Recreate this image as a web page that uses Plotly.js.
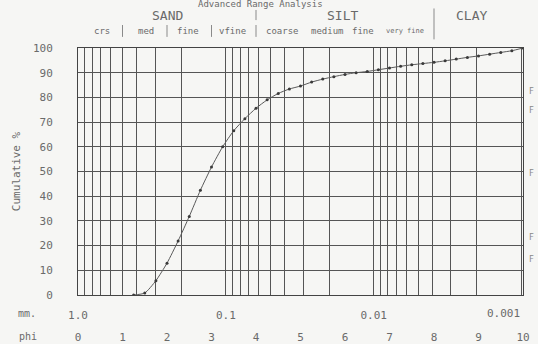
<!DOCTYPE html>
<html>
<head>
<meta charset="utf-8">
<script src="https://cdn.plot.ly/plotly-3.0.1.min.js"></script>
<style>
  html, body { margin: 0; padding: 0; background: #f6f6f4; }
  #chart { width: 538px; height: 344px; }
</style>
</head>
<body>
<div id="chart"></div>
<script>
// ---- data ----
const phi = [1.25, 1.5, 1.75, 2.0, 2.25, 2.5, 2.75, 3.0, 3.25, 3.5, 3.75, 4.0, 4.25, 4.5, 4.75,
             5.0, 5.25, 5.5, 5.75, 6.0, 6.25, 6.5, 6.75, 7.0, 7.25, 7.5, 7.75, 8.0, 8.25, 8.5,
             8.75, 9.0, 9.25, 9.5, 9.75, 10.0];
const cumulative = [0.0, 0.8, 5.8, 12.9, 21.9, 31.8, 42.4, 51.8, 60.0, 66.5, 71.4, 75.6, 79.0, 81.6, 83.4,
                    84.6, 86.2, 87.4, 88.4, 89.3, 90.0, 90.5, 91.2, 91.9, 92.6, 93.2, 93.7, 94.2, 94.8, 95.5,
                    96.2, 96.8, 97.5, 98.2, 98.9, 100.0];

// grid / tick values on the mm (log) axis
const mmGrid = [1, 0.9, 0.8, 0.7, 0.6, 0.5, 0.4, 0.3, 0.2,
                0.1, 0.09, 0.08, 0.07, 0.06, 0.05, 0.04, 0.03, 0.02,
                0.01, 0.009, 0.008, 0.007, 0.006, 0.005, 0.004, 0.003, 0.002, 0.001];
const mmLabels = ['1.0', '', '', '', '', '', '', '', '',
                  '0.1', '', '', '', '', '', '', '', '',
                  '0.01', '', '', '', '', '', '', '', '', ''];
const mmLastLabel = '0.001';
const phiTicks = [0, 1, 2, 3, 4, 5, 6, 7, 8, 9, 10];
const yTicks = [0, 10, 20, 30, 40, 50, 60, 70, 80, 90, 100];

// class labels (text, phi position)
const classNames = ['SAND', 'SILT', 'CLAY'];
const classPhi = [2.0, 5.95, 8.85];
const subNames = ['crs', 'med', 'fine', 'vfine', 'coarse', 'medium', 'fine'];
const subPhi = [0.55, 1.52, 2.47, 3.47, 4.6, 5.6, 6.4];
const subSmall = ['very fine'];
const subSmallPhi = [7.35];
const sepSubPhi = [1, 2, 3];
const sepMainPhi = 4;
const sepFullPhi = 8;

const FONT = 'DejaVu Sans Mono, Liberation Mono, monospace';
const TXT = '#6a6a6a';

const annotations = [];
function note(o) { annotations.push(Object.assign({showarrow: false, yanchor: 'middle'}, o)); }
note({xref: 'paper', yref: 'paper', x: 0.41, y: 1.178, text: 'Advanced Range Analysis',
  font: {family: FONT, size: 9, color: TXT}});
classNames.forEach((t, i) => note({xref: 'x2', yref: 'paper', x: classPhi[i], y: 1.133,
  text: t, font: {family: FONT, size: 13, color: TXT}}));
subNames.forEach((t, i) => note({xref: 'x2', yref: 'paper', x: subPhi[i], y: 1.069,
  text: t, font: {family: FONT, size: 9, color: TXT}}));
subSmall.forEach((t, i) => note({xref: 'x2', yref: 'paper', x: subSmallPhi[i], y: 1.069,
  text: t, font: {family: FONT, size: 7, color: TXT}}));
note({xref: 'x', yref: 'paper', x: Math.log10(mmGrid[mmGrid.length - 1]), xanchor: 'right',
  xshift: 1, y: -0.073, text: mmLastLabel, font: {family: FONT, size: 11, color: TXT}});
note({xref: 'paper', yref: 'paper', x: -0.09, y: -0.073, xanchor: 'right', text: 'mm.',
  font: {family: FONT, size: 10, color: TXT}});
note({xref: 'paper', yref: 'paper', x: -0.087, y: -0.17, xanchor: 'right', text: 'phi',
  font: {family: FONT, size: 10, color: TXT}});
// marks at right edge
[0.823, 0.745, 0.49, 0.231, 0.142].forEach(yy => note({xref: 'paper', yref: 'paper',
  x: 1.03, y: yy, xanchor: 'right', text: 'F', font: {family: FONT, size: 8, color: '#888'}}));

// separators between size classes
const shapes = [];
const sepLine = {color: '#8a8a8a', width: 1};
function vsep(p, y0, y1) {
  shapes.push({type: 'line', xref: 'x2', yref: 'paper', x0: p, x1: p, y0: y0, y1: y1, line: sepLine});
}
sepSubPhi.forEach(p => vsep(p, 1.045, 1.093));
vsep(sepMainPhi, 1.045, 1.093);
vsep(sepMainPhi, 1.113, 1.154);
vsep(sepFullPhi, 1.035, 1.16);

const curve = {
  x: phi, y: cumulative, xaxis: 'x2', yaxis: 'y',
  type: 'scatter', mode: 'lines+markers',
  line: {color: '#5a5a5a', width: 1, shape: 'spline', smoothing: 0.6},
  marker: {color: '#3a3a3a', size: 3},
  hoverinfo: 'skip'
};
// invisible carrier so the mm (log) axis and its grid are drawn
const mmCarrier = {
  x: [mmGrid[0], mmGrid[mmGrid.length - 1]], y: [yTicks[0], yTicks[0]],
  xaxis: 'x', yaxis: 'y', type: 'scatter', mode: 'markers',
  marker: {opacity: 0, size: 1}, hoverinfo: 'skip'
};

const layout = {
  width: 538, height: 344,
  margin: {l: 78, r: 15, t: 48, b: 49},
  paper_bgcolor: '#f6f6f4', plot_bgcolor: '#f6f6f4',
  showlegend: false,
  font: {family: FONT, color: TXT, size: 11},
  xaxis: {
    type: 'log', range: [0, -3.0103], tickmode: 'array', tickvals: mmGrid, ticktext: mmLabels,
    showgrid: true, gridcolor: '#555', gridwidth: 1, ticks: '', ticklabelstandoff: 10,
    showline: true, mirror: true, linecolor: '#444', linewidth: 1, zeroline: false,
    tickfont: {family: FONT, size: 11, color: TXT}, fixedrange: true
  },
  xaxis2: {
    overlaying: 'x', anchor: 'y', side: 'bottom', range: [0, 10], tickmode: 'array',
    tickvals: phiTicks, ticktext: phiTicks.map(String), showgrid: false, zeroline: false,
    showline: false, ticks: '', ticklabelstandoff: 34,
    tickfont: {family: FONT, size: 11, color: TXT}, fixedrange: true
  },
  yaxis: {
    range: [0, 100], tickmode: 'array', tickvals: yTicks, ticktext: yTicks.map(String),
    showgrid: true, gridcolor: '#555', gridwidth: 1, ticks: '', ticklabelstandoff: 22,
    showline: true, mirror: true, linecolor: '#444', linewidth: 1, zeroline: false,
    tickfont: {family: FONT, size: 11, color: TXT}, fixedrange: true,
    title: {text: 'Cumulative %', standoff: 10, font: {family: FONT, size: 11, color: TXT}}
  },
  shapes: shapes,
  annotations: annotations
};

Plotly.newPlot('chart', [mmCarrier, curve], layout, {staticPlot: true, displayModeBar: false});
</script>
</body>
</html>
